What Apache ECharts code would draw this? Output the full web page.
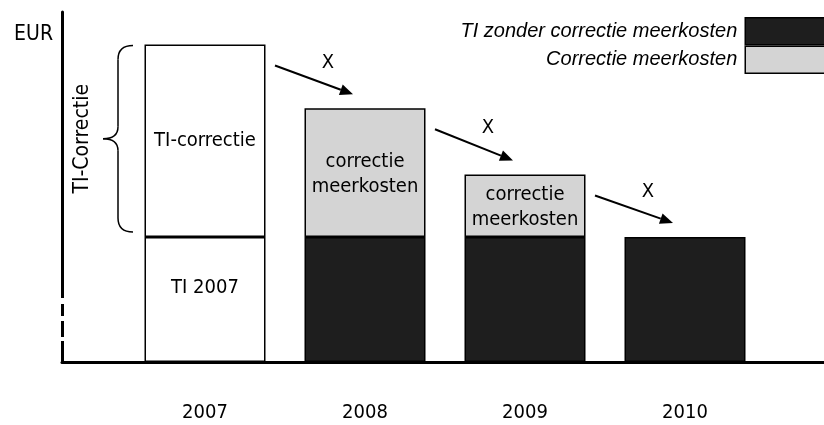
<!DOCTYPE html>
<html><head><meta charset="utf-8">
<script src="https://cdn.jsdelivr.net/npm/echarts@6/dist/echarts.min.js"></script>
<style>html,body{margin:0;padding:0;background:#fff}#c{width:824px;height:425px}</style>
</head><body><div id="c"></div>
<script>
// ---- data ----
const categories = ['2007', '2008', '2009', '2010'];
const ti2007 = [100, '-', '-', '-'];
const tiCorrectie = [154, '-', '-', '-'];
const tiZonder = ['-', 100, 100, 100];
const correctieMeerkosten = ['-', 103, 50, '-'];
const legendNames = ['TI zonder correctie meerkosten', 'Correctie meerkosten'];
const yMax = 280;

// ---- styles ----
const NARROW = '"Liberation Sans Narrow","Arial Narrow","DejaVu Sans Condensed",sans-serif';
const DARK = '#1e1e1e';
const LIGHT = '#d4d4d4';
const LBL = { show: true, color: '#000', fontFamily: NARROW, fontSize: 20, lineHeight: 25 };

const chart = echarts.init(document.getElementById('c'), null, { renderer: 'canvas' });

const option = {
  animation: false,
  backgroundColor: '#fff',
  grid: [
    { left: 125, right: 59, top: 12, bottom: 63 },
    { left: 62, right: 0, top: 12, bottom: 63 }
  ],
  xAxis: [
    { type: 'category', gridIndex: 0, data: categories,
      axisLine: { show: false }, axisTick: { show: false },
      axisLabel: { margin: 41, color: '#000', fontFamily: NARROW, fontSize: 20 } },
    { type: 'value', gridIndex: 1, min: 0, max: 1,
      axisLine: { show: true, lineStyle: { color: '#000', width: 3 } },
      axisTick: { show: false }, axisLabel: { show: false }, splitLine: { show: false } }
  ],
  yAxis: [
    { type: 'value', gridIndex: 0, min: 0, max: yMax, show: false },
    { type: 'value', gridIndex: 1, min: 0, max: yMax,
      name: 'EUR', nameLocation: 'end', nameGap: -12,
      nameTextStyle: { align: 'right', verticalAlign: 'top', padding: [0, 9, 0, 0], color: '#000', fontFamily: NARROW, fontSize: 21 },
      axisLine: { show: true, lineStyle: { color: '#000', width: 3 } },
      axisTick: { show: false }, axisLabel: { show: false }, splitLine: { show: false } }
  ],
  legend: {
    data: legendNames, orient: 'vertical', right: -6, top: 17, padding: 0, align: 'right',
    itemWidth: 84, itemHeight: 27, itemGap: 0, selectedMode: false, icon: 'rect',
    itemStyle: { borderColor: '#000', borderWidth: 1.5 },
    textStyle: { color: '#000', fontStyle: 'italic', fontFamily: '"Liberation Sans",Arial,sans-serif', fontSize: 20, padding: [0, 3, 0, 0] }
  },
  series: [
    { name: 'TI 2007', type: 'bar', stack: 'a', data: ti2007, barWidth: 121,
      itemStyle: { color: '#fff', borderColor: '#000', borderWidth: 1.5 },
      label: Object.assign({}, LBL, { position: 'inside', formatter: 'TI 2007', offset: [0, -12] }) },
    { name: legendNames[0], type: 'bar', stack: 'a', data: tiZonder, barWidth: 121,
      itemStyle: { color: DARK, borderColor: '#000', borderWidth: 1.5 } },
    { name: legendNames[1], type: 'bar', stack: 'a', data: correctieMeerkosten, barWidth: 121,
      itemStyle: { color: LIGHT, borderColor: '#000', borderWidth: 1.5 },
      label: Object.assign({}, LBL, { position: 'inside', formatter: 'correctie\nmeerkosten', offset: [0, 2] }) },
    { name: 'TI-correctie', type: 'bar', stack: 'a', data: tiCorrectie, barWidth: 121,
      itemStyle: { color: '#fff', borderColor: '#000', borderWidth: 1.5 },
      label: Object.assign({}, LBL, { position: 'inside', formatter: 'TI-correctie' }) }
  ]
};
chart.setOption(option);

// ---- annotations positioned through the bar axes ----
function num(v) { return typeof v === 'number' ? v : 0; }
const tops = categories.map((c, i) => num(ti2007[i]) + num(tiCorrectie[i]) + num(tiZonder[i]) + num(correctieMeerkosten[i]));
const px = (i, v) => chart.convertToPixel({ xAxisIndex: 0, yAxisIndex: 0 }, [i, v]);
const g = [];
const ST = { stroke: '#000', lineWidth: 1.5, fill: null };
// arrows between successive bars
for (let i = 0; i < categories.length - 1; i++) {
  const a = px(i, tops[i]), b = px(i + 1, tops[i + 1]);
  const x0 = a[0] + 70, y0 = a[1] + 21;
  const x1 = b[0] - 12, y1 = b[1] - 14;
  const ang = Math.atan2(y1 - y0, x1 - x0);
  const L = 13, W = 5.5;
  const bx = x1 - L * Math.cos(ang), by = y1 - L * Math.sin(ang);
  g.push({ type: 'line', shape: { x1: x0, y1: y0, x2: bx, y2: by }, style: { stroke: '#000', lineWidth: 2 } });
  g.push({ type: 'polygon', shape: { points: [[x1, y1], [bx - W * Math.sin(ang), by + W * Math.cos(ang)], [bx + W * Math.sin(ang), by - W * Math.cos(ang)]] }, style: { fill: '#000' } });
  g.push({ type: 'text', x: (x0 + x1) / 2 + 14, y: (y0 + y1) / 2 - 17,
    style: { text: 'X', fill: '#000', font: '20px ' + NARROW, textAlign: 'center', textVerticalAlign: 'middle' } });
}
// brace on the 2007 correction
const bt = px(0, tops[0]), bb = px(0, num(ti2007[0]));
const tipX = bt[0] - 72, spX = tipX - 15, ptX = spX - 15;
const yT = bt[1] + 1, yB = bb[1] - 5, yM = (yT + yB) / 2;
const bz = (x1, y1, cx, cy, x2, y2) => ({ type: 'bezierCurve', shape: { x1: x1, y1: y1, cpx1: cx, cpy1: cy, x2: x2, y2: y2 }, style: ST });
const ln = (x1, y1, x2, y2) => ({ type: 'line', shape: { x1: x1, y1: y1, x2: x2, y2: y2 }, style: ST });
g.push(bz(tipX, yT, spX, yT, spX, yT + 14));
g.push(ln(spX, yT + 14, spX, yM - 12));
g.push(bz(spX, yM - 12, spX, yM, ptX, yM));
g.push(bz(ptX, yM, spX, yM, spX, yM + 12));
g.push(ln(spX, yM + 12, spX, yB - 14));
g.push(bz(spX, yB - 14, spX, yB, tipX, yB));
g.push({ type: 'text', x: ptX - 20, y: yM, rotation: Math.PI / 2,
  style: { text: 'TI-Correctie', fill: '#000', font: '21px ' + NARROW, textAlign: 'center', textVerticalAlign: 'middle' } });
// dashed lower part of the value axis (gaps over the axis line)
const y0p = px(0, 0)[1];
[[64, 58], [46, 41], [25, 21]].forEach(([a, b]) => {
  g.push({ type: 'rect', shape: { x: 59, y: y0p - a, width: 7, height: a - b }, style: { fill: '#fff' }, z: 100 });
});
chart.setOption({ graphic: g });
</script></body></html>
